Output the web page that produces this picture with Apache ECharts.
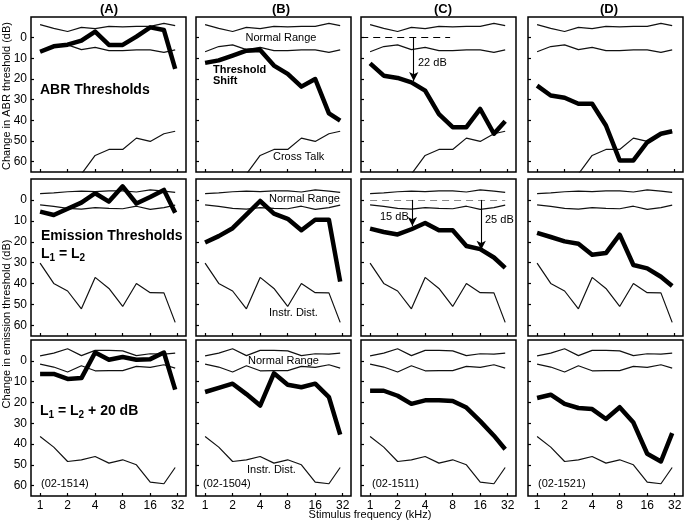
<!DOCTYPE html>
<html><head><meta charset="utf-8">
<script src="https://cdn.jsdelivr.net/npm/echarts@6/dist/echarts.min.js"></script>
<style>html,body{margin:0;padding:0;background:#fff}#c{width:685px;height:522px}</style>
</head><body><div id="c"></div>
<script>
// ---------- data ----------
const freqsKHz = [1, 1.41, 2, 2.83, 4, 5.66, 8, 11.3, 16, 22.6, 30];
const xTickLabels = [1, 2, 4, 8, 16, 32];
const yTickLabels = [0, 10, 20, 30, 40, 50, 60];
const panelLetters = ['(A)', '(B)', '(C)', '(D)'];
const animalIds = ['(02-1514)', '(02-1504)', '(02-1511)', '(02-1521)'];

// Row 1: ABR thresholds
const abrNormalUpper = [-6.3, -4.5, -3.0, -5.0, -4.4, -5.5, -5.2, -5.5, -5.5, -6.9, -5.8];
const abrNormalLower = [6.8, 4.3, 3.5, 5.8, 4.7, 6.3, 6.3, 5.9, 5.9, 7.1, 5.9];
const abrCrossTalk = [null, null, null, 66, 57, 54.1, 54.1, 48.6, 50.2, 46.5, 45.3];
const abrShiftA = [6.8, 4.2, 3.4, 1.4, -2.9, 3.5, 3.5, -0.5, -5, -3.7, 15.1];
const abrShiftB = [12.2, 11, 8.7, 6.3, 6, 13.5, 17.5, 23.7, 20, 36.6, 40.1];
const abrShiftC = [12.4, 18.4, 19.5, 21.6, 25.6, 37, 43.3, 43.3, 34.5, 46.5, 40.4];
const abrShiftD = [23.2, 28, 29.1, 32, 32, 42.5, 59.4, 59.4, 50.6, 46.5, 45.3];

// Row 2: emission thresholds L1 = L2
const emNormalUpper = [-3.0, -3.4, -3.9, -4.2, -4.0, -4.3, -4.3, -3.8, -4.8, -4.2, -3.6];
const emNormalLower = [2.4, 3.1, 4.0, 4.4, 3.7, 4.0, 4.2, 3.0, 4.5, 3.7, 2.5];
const emDistortion = [30.2, 39.9, 43.5, 52, 37, 42.3, 50.9, 39.9, 44.3, 44.4, 58.5];
const emShiftA = [5.6, 7.2, 4.2, 1.3, -3.2, 0.8, -6.5, 1.7, -1.4, -4.8, 6.1];
const emShiftB = [20.3, 17.3, 13.5, 7, 0.5, 6.5, 9, 14.5, 9.5, 9.5, 39];
const emShiftC = [13.7, 15.3, 16.5, 14, 11, 14.5, 14.5, 22, 23.5, 27.5, 32.5];
const emShiftD = [15.7, 17.7, 19.8, 20.9, 26.2, 25.4, 16.6, 31.1, 32.7, 36.7, 41.1];

// Row 3: emission thresholds L1 = L2 + 20 dB
const em20NormalUpper = [-2.4, -3.7, -5.8, -2.5, -5, -5, -4.8, -2.5, -3.4, -3.2, -3.7];
const em20NormalLower = [1.6, 3, 5.4, 2.4, 4.8, 4.7, 4.7, 2.7, 3.2, 1.9, 3.5];
const em20Distortion = [36.4, 41.5, 48.4, 47.6, 46, 49.2, 47.6, 50, 58.3, 59.1, 51.3];
const em20ShiftA = [6.3, 6.3, 8.7, 8.3, -4, -0.5, -1.8, -0.5, -0.8, -4, 13.9];
const em20ShiftB = [15, 13, 11, 16, 21.5, 6, 11.5, 12.7, 11, 17.5, 35.5];
const em20ShiftC = [14.4, 14.4, 16.8, 20.7, 19, 19, 19.3, 22.5, 29, 36, 42.5];
const em20ShiftD = [17.9, 16.3, 20.7, 22.7, 23.2, 28, 22.3, 29.7, 44.7, 48.4, 34.8];

// Annotations (panel C)
const abrRefSpanKHz = [0.8, 7.5];
const abrArrowKHz = [3.0];
const abrArrowEnd = [21];
const emRefSpanKHz = [1, 30];
const emArrowKHz = [2.9, 16.4];
const emArrowEnd = [12.5, 23.8];

// ---------- build ----------
const normalUpperRows = [abrNormalUpper, emNormalUpper, em20NormalUpper];
const normalLowerRows = [abrNormalLower, emNormalLower, em20NormalLower];
const artifactRows = [abrCrossTalk, emDistortion, em20Distortion];
const shiftRows = [
  [abrShiftA, abrShiftB, abrShiftC, abrShiftD],
  [emShiftA, emShiftB, emShiftC, emShiftD],
  [em20ShiftA, em20ShiftB, em20ShiftC, em20ShiftD]
];

const FONT = 'Liberation Sans, Arial, Helvetica, sans-serif';
const lefts = [31, 196, 361, 528];
const tops = [17, 179, 340];
const W = 155;
const Hs = [155, 157, 156];
const lg = Math.log2;
const toPts = vals => freqsKHz.map((f, i) => [lg(f), vals[i]]);

const grids = [], xAxes = [], yAxes = [], series = [];
let gi = 0;
for (let r = 0; r < 3; r++) {
  for (let c = 0; c < 4; c++) {
    grids.push({left: lefts[c], top: tops[r], width: W, height: Hs[r], show: true,
      borderColor: '#000', borderWidth: 1.5, backgroundColor: '#fff', containLabel: false});
    xAxes.push({gridIndex: gi, type: 'value', min: -0.33, max: 5.3, position: 'bottom',
      axisLine: {show: false, onZero: false}, splitLine: {show: false},
      axisTick: {show: true, inside: true, length: 3, lineStyle: {color: '#000', width: 1.2},
        customValues: xTickLabels.map(lg)},
      axisLabel: {show: r === 2, margin: 4, fontSize: 12, color: '#000', fontFamily: FONT,
        customValues: xTickLabels.map(lg), formatter: v => String(Math.round(Math.pow(2, v)))}});
    yAxes.push({gridIndex: gi, type: 'value', inverse: true, min: -10, max: 65, position: 'left',
      axisLine: {show: false, onZero: false}, splitLine: {show: false},
      axisTick: {show: true, inside: true, length: 3, lineStyle: {color: '#000', width: 1.2},
        customValues: yTickLabels},
      axisLabel: {show: c === 0, margin: 4, fontSize: 12, color: '#000', fontFamily: FONT,
        customValues: yTickLabels}});
    const thin = {type: 'line', xAxisIndex: gi, yAxisIndex: gi, showSymbol: false, symbol: 'none',
      silent: true, lineStyle: {color: '#111', width: 1.2}, z: 2};
    const upper = Object.assign({}, thin, {data: toPts(normalUpperRows[r])});
    if (c === 2 && r < 2) {
      const span = r === 0 ? abrRefSpanKHz : emRefSpanKHz;
      upper.markLine = {silent: true, symbol: ['none', 'none'], label: {show: false},
        lineStyle: {color: r === 0 ? '#000' : '#888', width: 1.1, type: [7, 5]},
        data: [[{coord: [lg(span[0]), 0]}, {coord: [lg(span[1]), 0]}]]};
    }
    series.push(upper);
    series.push(Object.assign({}, thin, {data: toPts(normalLowerRows[r])}));
    series.push(Object.assign({}, thin, {data: toPts(artifactRows[r])}));
    const thick = {type: 'line', xAxisIndex: gi, yAxisIndex: gi, showSymbol: false, symbol: 'none',
      silent: true, lineStyle: {color: '#000', width: 4.5, join: 'round'}, z: 3,
      data: toPts(shiftRows[r][c])};
    if (c === 2 && r < 2) {
      const ks = r === 0 ? abrArrowKHz : emArrowKHz;
      const ends = r === 0 ? abrArrowEnd : emArrowEnd;
      thick.markLine = {silent: true, symbol: ['none', 'arrow'], symbolSize: [7, 9],
        label: {show: false}, lineStyle: {color: '#000', width: 1.1, type: 'solid'},
        data: ks.map((k, i) => [{coord: [lg(k), 0]}, {coord: [lg(k), ends[i]]}])};
    }
    series.push(thick);
    gi++;
  }
}

function txt(x, y, text, opt) {
  return Object.assign({type: 'text', x: x, y: y, silent: true, z: 100,
    style: Object.assign({text: text, fill: '#000', fontFamily: FONT, fontSize: 11,
      align: 'left', verticalAlign: 'middle'}, opt || {})});
}
const headerX = [109, 281, 443, 609];
const graphics = [];
panelLetters.forEach((t, i) => graphics.push(txt(headerX[i], 9, t,
  {fontSize: 13, fontWeight: 'bold', align: 'center'})));
graphics.push(Object.assign(txt(7, 96, 'Change in ABR threshold (dB)', {align: 'center'}), {rotation: Math.PI / 2}));
graphics.push(Object.assign(txt(7, 324, 'Change in emission threshold (dB)', {align: 'center'}), {rotation: Math.PI / 2}));
graphics.push(txt(370, 515, 'Stimulus frequency (kHz)', {align: 'center'}));
graphics.push(txt(40, 90, 'ABR Thresholds', {fontSize: 14, fontWeight: 'bold'}));
graphics.push(txt(281, 38, 'Normal Range', {align: 'center'}));
graphics.push(txt(213, 70, 'Threshold', {fontWeight: 'bold'}));
graphics.push(txt(213, 81, 'Shift', {fontWeight: 'bold'}));
graphics.push(txt(273, 157, 'Cross Talk'));
graphics.push(txt(418, 63, '22 dB'));
graphics.push(txt(41, 236, 'Emission Thresholds', {fontSize: 14, fontWeight: 'bold'}));
const rich = {
  b: {fontSize: 14, fontWeight: 'bold', fontFamily: FONT, lineHeight: 16},
  s: {fontSize: 10, fontWeight: 'bold', fontFamily: FONT, lineHeight: 10, padding: [8, 0, 0, 0]}
};
graphics.push(txt(41, 254, '{b|L}{s|1}{b| = L}{s|2}', {rich: rich}));
graphics.push(txt(269, 199, 'Normal Range'));
graphics.push(txt(269, 313, 'Instr. Dist.'));
graphics.push(txt(380, 217, '15 dB'));
graphics.push(txt(485, 220, '25 dB'));
graphics.push(txt(40, 411, '{b|L}{s|1}{b| = L}{s|2}{b| + 20 dB}', {rich: rich}));
graphics.push(txt(248, 361, 'Normal Range'));
graphics.push(txt(247, 470, 'Instr. Dist.'));
const idX = [41, 203, 372, 538];
animalIds.forEach((t, i) => graphics.push(txt(idX[i], 484, t)));

const chart = echarts.init(document.getElementById('c'));
chart.setOption({
  animation: false,
  backgroundColor: '#fff',
  grid: grids, xAxis: xAxes, yAxis: yAxes, series: series,
  graphic: graphics
});
</script></body></html>
